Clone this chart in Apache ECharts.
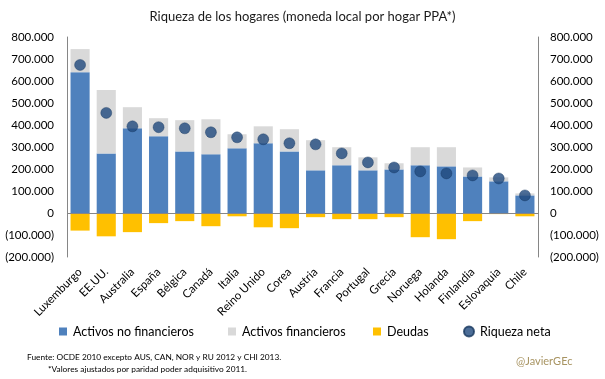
<!DOCTYPE html>
<html>
<head>
<meta charset="utf-8">
<script src="https://cdn.jsdelivr.net/npm/echarts@6/dist/echarts.min.js"></script>
<style>
html,body{margin:0;padding:0;background:#fff;}
#chart{width:605px;height:379px;}
</style>
</head>
<body>
<div id="chart"></div>
<script>
const categories = ['Luxemburgo','EE.UU.','Australia','España','Bélgica','Canadá','Italia','Reino Unido','Corea','Austria','Francia','Portugal','Grecia','Noruega','Holanda','Finlandia','Eslovaquia','Chile'];
const activosNoFinancieros = [640000,271000,385000,349000,280000,267000,294000,317000,280000,194000,217000,194000,198000,217000,212000,166000,144000,80000];
const activosFinancieros = [105000,288000,96000,82000,142000,159000,64000,77000,101000,137000,82000,59000,28000,82000,87000,41000,18000,9000];
const deudas = [-80000,-106000,-87000,-46000,-37000,-60000,-15000,-65000,-69000,-19000,-28000,-28000,-19000,-110000,-119000,-37000,-5000,-15000];
const riquezaNeta = [673000,455000,394000,390000,385000,367000,344000,335000,317000,312000,271000,230000,207000,189000,180000,171000,157000,80000];
const titleText = 'Riqueza de los hogares (moneda local por hogar PPA*)';
const sourceLines = ['Fuente: OCDE 2010 excepto AUS, CAN, NOR y RU 2012 y CHI 2013.', '*Valores ajustados por paridad poder adquisitivo 2011.'];
const credit = '@JavierGEc';

const FONT = 'Lato';
function fmt(v){
  const s = String(Math.abs(v));
  return s.replace(/\B(?=(\d{3})+(?!\d))/g, '.');
}
function axisFmt(v){
  if (v === 0) return '0';
  return v < 0 ? '(' + fmt(v) + ')' : fmt(v);
}

const chart = echarts.init(document.getElementById('chart'), null, {renderer:'canvas'});
const yAxisBase = {
  type:'value', min:-200000, max:800000, interval:100000,
  splitLine:{show:false},
  axisTick:{show:false},
  axisLine:{show:true, lineStyle:{color:'#868686', width:1}},
  axisLabel:{formatter:axisFmt, color:'#000', fontFamily:FONT, fontSize:11.5, margin:13}
};
const legendBase = {
  top:320, itemWidth:8, itemHeight:8, itemGap:0,
  textStyle:{fontFamily:FONT, fontSize:12.5, color:'#000', padding:[0,0,0,1]},
  selectedMode:false
};
chart.setOption({
  animation:false,
  title:{text:titleText, left:'center', top:5,
    textStyle:{fontFamily:FONT, fontSize:13, fontWeight:'normal', color:'#1a1a1a'}},
  grid:{left:67, right:67, top:37, bottom:122, containLabel:false},
  xAxis:{type:'category', data:categories, position:'bottom',
    axisLine:{show:false, onZero:false}, axisTick:{show:false},
    axisLabel:{rotate:45, interval:0, color:'#000', fontFamily:FONT, fontSize:11.5, margin:13}},
  yAxis:[
    Object.assign({}, yAxisBase, {position:'left'}),
    Object.assign({}, yAxisBase, {position:'right', axisLabel:Object.assign({}, yAxisBase.axisLabel, {margin:12})})
  ],
  legend:[
    Object.assign({}, legendBase, {left:54, data:[{name:'Activos no financieros', icon:'rect'}]}),
    Object.assign({}, legendBase, {left:223, data:[{name:'Activos financieros', icon:'rect'}]}),
    Object.assign({}, legendBase, {left:368, data:[{name:'Deudas', icon:'rect'}]}),
    Object.assign({}, legendBase, {left:458, itemWidth:10, itemHeight:10, data:[{name:'Riqueza neta', icon:'circle'}]})
  ],
  graphic:[
    {type:'text', left:27, top:353, style:{text:sourceLines[0], fontFamily:FONT, fontSize:8.3, fill:'#000'}},
    {type:'text', left:48, top:365, style:{text:sourceLines[1], fontFamily:FONT, fontSize:8.3, fill:'#000'}},
    {type:'text', left:516, top:356, style:{text:credit, fontFamily:FONT, fontSize:11, fill:'#A89462'}}
  ],
  series:[
    {name:'Activos no financieros', type:'bar', stack:'a', data:activosNoFinancieros, barCategoryGap:'27%',
      itemStyle:{color:'#4F81BD'},
      markLine:{silent:true, symbol:'none', label:{show:false}, lineStyle:{color:'#868686', width:1, type:'solid'},
        data:[{yAxis:0}]}},
    {name:'Activos financieros', type:'bar', stack:'a', data:activosFinancieros, itemStyle:{color:'#D9D9D9'}},
    {name:'Deudas', type:'bar', stack:'a', data:deudas, itemStyle:{color:'#FFC000'}},
    {name:'Riqueza neta', type:'scatter', data:riquezaNeta, symbolSize:11, z:5,
      itemStyle:{color:'#1F497D', borderColor:'#17375E', borderWidth:0.5}}
  ]
});
</script>
</body>
</html>
